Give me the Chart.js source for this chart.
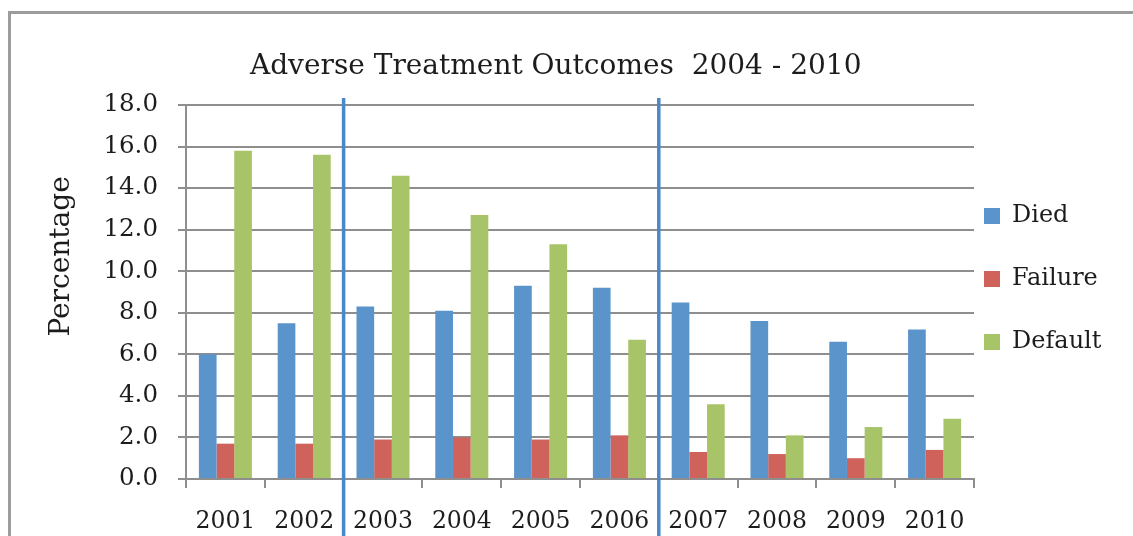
<!DOCTYPE html>
<html>
<head>
<meta charset="utf-8">
<title>Adverse Treatment Outcomes</title>
<script src="https://cdn.jsdelivr.net/npm/chart.js@4/dist/chart.umd.min.js"></script>
<style>
  html, body { margin: 0; padding: 0; background: #fff; }
  canvas { display: block; }
</style>
</head>
<body>
<canvas id="chart" width="1133" height="536"></canvas>
<script>
// DATA
const years = ["2001", "2002", "2003", "2004", "2005", "2006", "2007", "2008", "2009", "2010"];
const died = [6.0, 7.5, 8.3, 8.1, 9.3, 9.2, 8.5, 7.6, 6.6, 7.2];
const failure = [1.7, 1.7, 1.9, 2.0, 1.9, 2.1, 1.3, 1.2, 1.0, 1.4];
const defaulted = [15.8, 15.6, 14.6, 12.7, 11.3, 6.7, 3.6, 2.1, 2.5, 2.9];
const yTicks = [0, 2, 4, 6, 8, 10, 12, 14, 16, 18];
// separators sit between these category indexes
const dividers = [1.5, 5.5];

const gridColor = "#8e8e8e";
const textColor = "#1c1c1c";

Chart.defaults.font.family = "'DejaVu Serif', serif";
Chart.defaults.color = textColor;

// frame round the whole chart (left + top edge only show)
const framePlugin = {
    id: "frame",
    beforeDraw(chart) {
        const ctx = chart.ctx;
        ctx.save();
        ctx.strokeStyle = "#9c9c9c";
        ctx.lineWidth = 3;
        ctx.beginPath();
        ctx.moveTo(9.5, chart.height);
        ctx.lineTo(9.5, 12.5);
        ctx.lineTo(chart.width, 12.5);
        ctx.stroke();
        ctx.restore();
    }
};

// blue vertical separators
const dividerPlugin = {
    id: "dividers",
    afterDatasetsDraw(chart) {
        const ctx = chart.ctx;
        const x = chart.scales.x;
        ctx.save();
        ctx.strokeStyle = "#4a88c9";
        ctx.lineWidth = 3.5;
        dividers.forEach(v => {
            const px = x.getPixelForValue(v);
            ctx.beginPath();
            ctx.moveTo(px, chart.chartArea.top - 7);
            ctx.lineTo(px, chart.height);
            ctx.stroke();
        });
        ctx.restore();
    }
};

const chart = new Chart(document.getElementById("chart"), {
    type: "bar",
    data: {
        labels: years,
        datasets: [
            { label: "Died", data: died, backgroundColor: "#5b93cb" },
            { label: "Failure", data: failure, backgroundColor: "#cf625b" },
            { label: "Default", data: defaulted, backgroundColor: "#a8c468" }
        ]
    },
    options: {
        responsive: false,
        animation: false,
        layout: { padding: { left: 0, right: 12, top: 0, bottom: 0 } },
        datasets: {
            bar: { categoryPercentage: 0.673, barPercentage: 1.0 }
        },
        plugins: {
            tooltip: { enabled: false },
            title: {
                display: true,
                text: "Adverse Treatment Outcomes  2004 - 2010",
                font: { size: 28, weight: "normal" },
                color: textColor,
                padding: { top: 50, bottom: 21.4 }
            },
            legend: {
                position: "right",
                align: "start",
                fullSize: false,
                title: { display: true, text: "", font: { size: 12, lineHeight: "89px" }, padding: 0 },
                labels: {
                    boxWidth: 16,
                    boxHeight: 16,
                    padding: 10,
                    color: textColor,
                    font: { size: 24, lineHeight: "53px" },
                    generateLabels: c => Chart.defaults.plugins.legend.labels.generateLabels(c)
                        .map(l => Object.assign(l, { text: [l.text], lineWidth: 0 }))
                }
            }
        },
        scales: {
            x: {
                grid: {
                    display: true,
                    drawOnChartArea: false,
                    drawTicks: true,
                    tickLength: 9,
                    color: gridColor,
                    lineWidth: 2
                },
                border: { display: true, color: gridColor, width: 2 },
                ticks: { font: { size: 23.5 }, padding: 20, color: textColor, maxRotation: 0 },
                afterFit(scale) { scale.height = 57; }
            },
            y: {
                min: 0,
                max: 18,
                afterBuildTicks(scale) { scale.ticks = yTicks.map(v => ({ value: v })); },
                grid: { color: gridColor, lineWidth: 2, tickLength: 8 },
                border: { display: true, color: gridColor, width: 2 },
                ticks: {
                    font: { size: 24.5 },
                    padding: 20,
                    color: textColor,
                    callback: v => Number(v).toFixed(1)
                },
                title: {
                    display: true,
                    text: " ".repeat(8) + "Percentage",
                    font: { size: 28 },
                    color: textColor,
                    padding: { top: 45, bottom: 0 }
                },
                afterFit(scale) { scale.width = 186; }
            }
        }
    },
    plugins: [framePlugin, dividerPlugin]
});

// pin the plot's right edge to where the reference has it
const wantRight = 974;
const diff = chart.chartArea.right - wantRight;
if (Math.abs(diff) > 0.5) {
    chart.options.layout.padding.right += diff;
    chart.update();
}
</script>
</body>
</html>
